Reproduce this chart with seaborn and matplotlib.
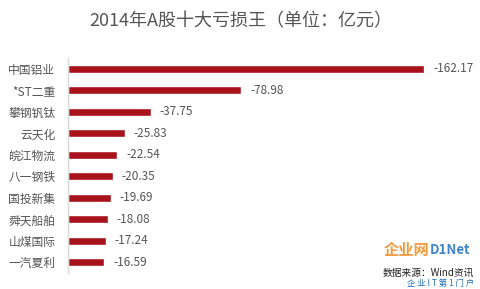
import matplotlib
matplotlib.use("Agg")
import matplotlib.pyplot as plt
import seaborn as sns
import pandas as pd

companies = ["中国铝业", "*ST二重", "攀钢钒钛", "云天化", "皖江物流",
             "八一钢铁", "国投新集", "舜天船舶", "山煤国际", "一汽夏利"]
losses = [-162.17, -78.98, -37.75, -25.83, -22.54,
          -20.35, -19.69, -18.08, -17.24, -16.59]
title = "2014年A股十大亏损王（单位：亿元）"
source = "数据来源：Wind资讯"

sns.set_theme(style="white")
plt.rcParams['font.family'] = ['Noto Sans CJK SC', 'DejaVu Sans']

df = pd.DataFrame({"company": companies, "loss": losses})
df["magnitude"] = -df["loss"]

fig = plt.figure(figsize=(4.81, 2.89), dpi=100)
ax = fig.add_axes([0.141, 0.055, 0.80, 0.744])
sns.barplot(data=df, x="magnitude", y="company", orient="h",
            color="#A8121A", saturation=1, width=0.38, ax=ax)

for i, v in enumerate(losses):
    ax.text(-v + 4, i, f"{v:.2f}", va="center", ha="left",
            fontsize=8.5, color="#555555")

ax.set_xlim(0, 175)
ax.set_xlabel("")
ax.set_ylabel("")
ax.set_xticks([])
ax.tick_params(axis="y", length=0, pad=9, labelsize=8.5, labelcolor="#555555")
for s in ["top", "right", "bottom"]:
    ax.spines[s].set_visible(False)
ax.spines["left"].set_color("#d9d9d9")
ax.spines["left"].set_linewidth(1)

fig.text(0.5, 0.925, title, ha="center", va="center", fontsize=13, color="#555555")

# watermark
fig.text(0.893, 0.135, "企业网", ha="right", va="center", fontsize=11, color="#F08A1C",
         fontweight="bold", alpha=0.85)
fig.text(0.893, 0.135, "D1Net", ha="left", va="center", fontsize=9.5, color="#1E6FBF",
         fontweight="bold", alpha=0.85)
fig.text(0.985, 0.055, source, ha="right", va="center", fontsize=7, color="#222222")
fig.text(0.985, 0.018, "企 业 I T 第 1 门 户", ha="right", va="center", fontsize=6,
         color="#1E6FBF")

fig.savefig("out.png", dpi=100)
